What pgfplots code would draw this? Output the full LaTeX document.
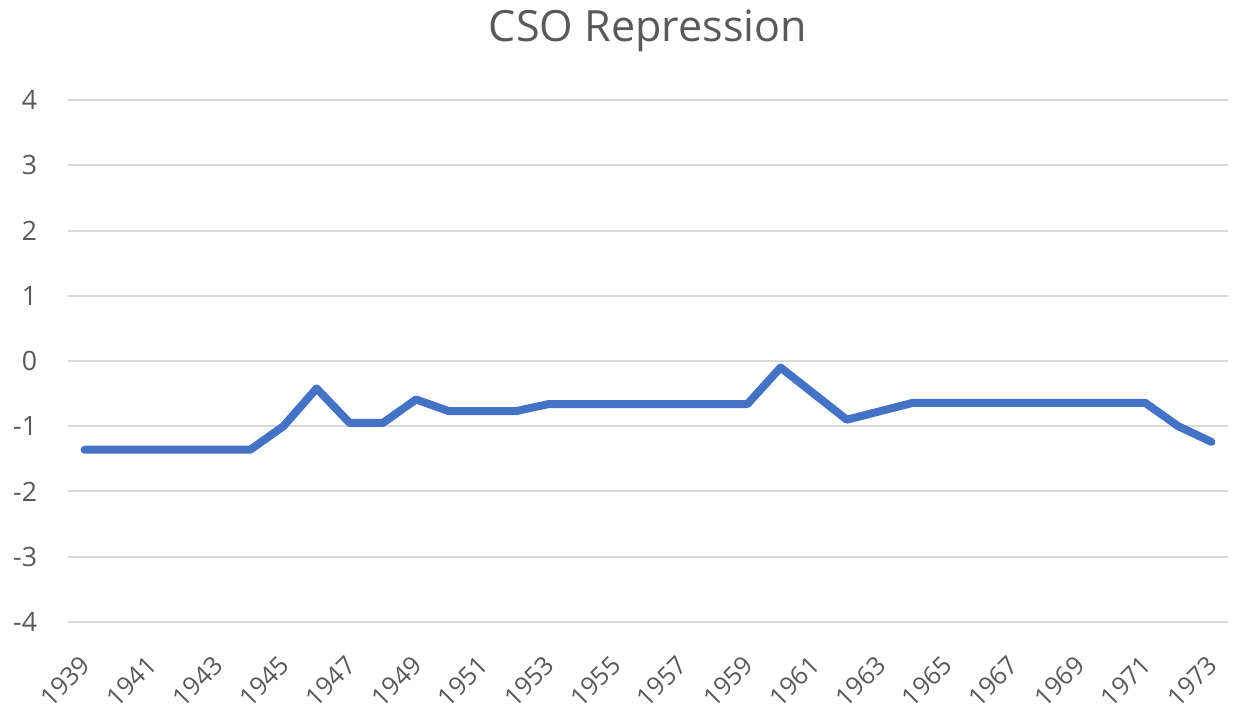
\documentclass[border=0pt]{standalone}
\usepackage{pgfplots}
\pgfplotsset{compat=1.18}
\usepackage{fontspec}
\setmainfont{Open Sans}
\definecolor{txt}{HTML}{595959}
\definecolor{gridcol}{HTML}{D9D9D9}
\definecolor{lineblue}{HTML}{4472C4}
\begin{document}
\begin{tikzpicture}
\begin{axis}[
  scale only axis,
  width=870pt, height=391.5pt,
  xmin=1938.5, xmax=1973.5,
  ymin=-4, ymax=4,
  ytick={-4,-3,...,4},
  xtick={1939,1941,...,1973},
  axis line style={draw=none},
  major tick length=0pt,
  xmajorgrids=false,
  ymajorgrids=true,
  major grid style={draw=gridcol, line width=1.5pt},
  tick label style={font=\fontsize{20}{24}\selectfont, text=txt},
  /pgf/number format/assume math mode=true,
  /pgf/number format/1000 sep={},
  yticklabel style={anchor=east, inner sep=0pt, xshift=-23pt},
  xticklabel style={font=\fontsize{19}{22}\selectfont, inner sep=0pt, xshift=1pt, yshift=-29pt, rotate=45, anchor=east},
  title={CSO Repression},
  title style={font=\fontsize{32.3}{36}\selectfont, text=txt, at={(0.5,1)}, anchor=center, yshift=46pt},
  clip=false,
]
\addplot[lineblue, line width=6pt, line cap=round, line join=round] coordinates {
(1939,-1.36) (1940,-1.36) (1941,-1.36) (1942,-1.36) (1943,-1.36) (1944,-1.36)
(1945,-1.00) (1946,-0.42) (1947,-0.95) (1948,-0.95) (1949,-0.59) (1950,-0.77)
(1951,-0.77) (1952,-0.77) (1953,-0.66) (1954,-0.66) (1955,-0.66) (1956,-0.66)
(1957,-0.66) (1958,-0.66) (1959,-0.66) (1960,-0.10) (1961,-0.50) (1962,-0.90)
(1963,-0.77) (1964,-0.64) (1965,-0.64) (1966,-0.64) (1967,-0.64) (1968,-0.64)
(1969,-0.64) (1970,-0.64) (1971,-0.64) (1972,-1.00) (1973,-1.24)
};
\end{axis}
\pgfresetboundingbox
\path[use as bounding box] (-51pt,-68.25pt) rectangle (873.75pt,466.5pt);
\end{tikzpicture}
\end{document}
